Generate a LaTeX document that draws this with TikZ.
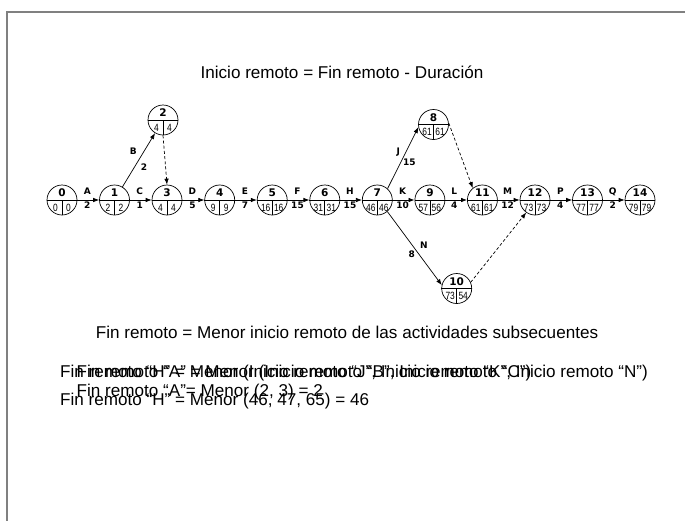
\documentclass[tikz,border=0pt]{standalone}
\usepackage{fontspec}
\setmainfont{Liberation Sans}
\newfontfamily\lblfont{DejaVu Sans}
\usetikzlibrary{arrows.meta,calc}

\tikzset{
  evt/.style={circle, draw, line width=0.7pt, minimum size=30pt, inner sep=0pt},
  act/.style={-{Latex[length=6pt,width=4.5pt]}, line width=0.7pt},
  dum/.style={act, dash pattern=on 3pt off 2.2pt},
  lbl/.style={font=\lblfont\bfseries\fontsize{9}{10}\selectfont, inner sep=0.5pt},
  evnum/.style={font=\lblfont\bfseries\fontsize{10.5}{10}\selectfont, inner sep=0pt},
  cell/.style={font=\fontsize{10.5}{10}\selectfont, xscale=0.8, inner sep=0pt},
  txt/.style={font=\fontsize{17.1}{20}\selectfont, inner sep=0pt},
  frame/.style={draw=gray, line width=1.2pt}
}

% \pertevent{name}{x}{y}{number}{left}{right}
\newcommand{\pertevent}[6]{%
  \node[evt] (#1) at (#2,#3) {};
  \draw[line width=0.7pt] (#1.west) -- (#1.east);
  \draw[line width=0.7pt] (#1.center) -- (#1.south);
  \node[evnum] (#1-n) at ($(#1.center)+(0,-7)$) {#4};
  \node[cell] (#1-a) at ($(#1.center)+(-6.5,7.5)$) {#5};
  \node[cell] (#1-b) at ($(#1.center)+(6.5,7.5)$) {#6};
}

\begin{document}
\begin{tikzpicture}[x=1pt,y=-1pt]
\useasboundingbox (0,0) rectangle (685,520);
\draw[frame] (7,521) -- (7,12) -- (686,12);

% events
\pertevent{n0}{62}{200}{0}{0}{0}
\pertevent{n1}{114.5}{200}{1}{2}{2}
\pertevent{n2}{163}{120}{2}{4}{4}
\pertevent{n3}{167}{200}{3}{4}{4}
\pertevent{n4}{219.7}{200}{4}{9}{9}
\pertevent{n5}{272.2}{200}{5}{16}{16}
\pertevent{n6}{324.8}{200}{6}{31}{31}
\pertevent{n7}{377.3}{200}{7}{46}{46}
\pertevent{n8}{433.5}{124.5}{8}{61}{61}
\pertevent{n9}{429.9}{200}{9}{57}{56}
\pertevent{n10}{456.7}{288.5}{10}{73}{54}
\pertevent{n11}{482.4}{200}{11}{61}{61}
\pertevent{n12}{535}{200}{12}{73}{73}
\pertevent{n13}{587.5}{200}{13}{77}{77}
\pertevent{n14}{640}{200}{14}{79}{79}

% activities on main row
\draw[act] (n0) -- (n1);
\draw[act] (n1) -- (n3);
\draw[act] (n3) -- (n4);
\draw[act] (n4) -- (n5);
\draw[act] (n5) -- (n6);
\draw[act] (n6) -- (n7);
\draw[act] (n7) -- (n9);
\draw[act] (n9) -- (n11);
\draw[act] (n11) -- (n12);
\draw[act] (n12) -- (n13);
\draw[act] (n13) -- (n14);
% branches
\draw[act] (n1) -- (n2);
\draw[act] (n7.48) -- (n8.190);
\draw[act] (n7.-49) -- (n10.167);
% dummies
\draw[dum] (n2.south) -- (n3.north);
\draw[dum] (n8.5) -- (n11.129);
\draw[dum] (n10.24) -- (n12.235);

% activity labels
\node[lbl] (lA) at (87.3,191.5) {A};   \node[lbl] (dA) at (87.3,205.5) {2};
\node[lbl] (lC) at (139.8,191.5) {C};  \node[lbl] (dC) at (139.8,205.5) {1};
\node[lbl] (lD) at (192.4,191.5) {D};  \node[lbl] (dD) at (192.4,205.5) {5};
\node[lbl] (lE) at (245,191.5) {E};    \node[lbl] (dE) at (245,205.5) {7};
\node[lbl] (lF) at (297.5,191.5) {F};  \node[lbl] (dF) at (297.5,205.5) {15};
\node[lbl] (lH) at (350,191.5) {H};    \node[lbl] (dH) at (350,205.5) {15};
\node[lbl] (lK) at (402.6,191.5) {K};  \node[lbl] (dK) at (402.6,205.5) {10};
\node[lbl] (lL) at (454.2,191.5) {L};  \node[lbl] (dL) at (454.2,205.5) {4};
\node[lbl] (lM) at (507.7,191.5) {M};  \node[lbl] (dM) at (507.7,205.5) {12};
\node[lbl] (lP) at (560.3,191.5) {P};  \node[lbl] (dP) at (560.3,205.5) {4};
\node[lbl] (lQ) at (612.8,191.5) {Q};  \node[lbl] (dQ) at (612.8,205.5) {2};
\node[lbl] (lB) at (133.3,151.7) {B};  \node[lbl] (dB) at (144,167.3) {2};
\node[lbl] (lJ) at (398.3,151.7) {J};  \node[lbl] (dJ) at (409.3,162.3) {15};
\node[lbl] (lN) at (424,245) {N};      \node[lbl] (dN) at (411.7,254) {8};

% texts
\node[txt] (t1) at (342,72) {Inicio remoto = Fin remoto - Duración};
\node[txt] (t2) at (347,332) {Fin remoto = Menor inicio remoto de las actividades subsecuentes};
\node[txt, anchor=base west] (h1) at (60,377) {Fin remoto “H” = Menor (Inicio remoto “J”, Inicio remoto “K”, Inicio remoto “N”)};
\node[txt, anchor=base west] (h2) at (60,405) {Fin remoto “H” = Menor (46, 47, 65) = 46};
\node[txt, anchor=base west] (a1) at (76.5,377) {Fin remoto “A” = Menor (Inicio remoto “B”, Inicio remoto “C”)};
\node[txt, anchor=base west] (a2) at (76.5,396.5) {Fin remoto “A”= Menor (2, 3) = 2};
\end{tikzpicture}
\end{document}
